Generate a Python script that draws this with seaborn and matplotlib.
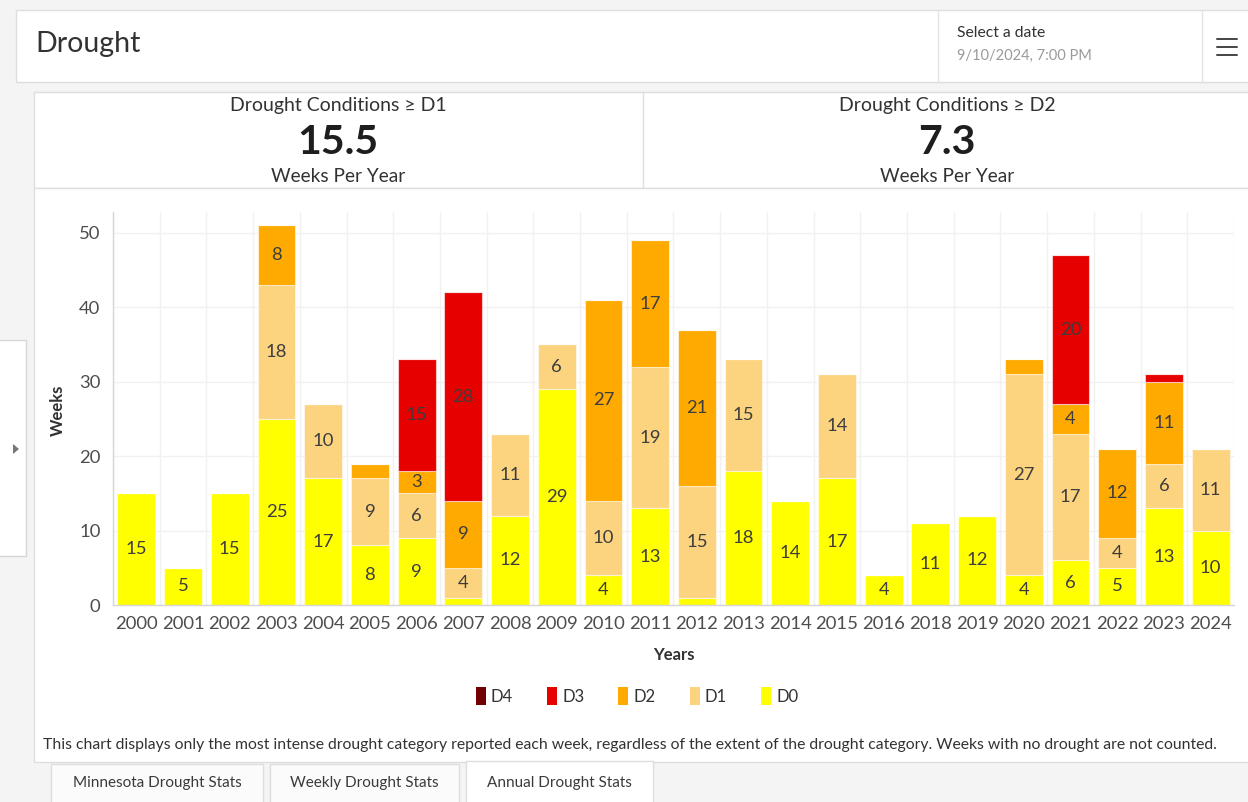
import numpy as np
import pandas as pd
import matplotlib
matplotlib.use("Agg")
import matplotlib.pyplot as plt
import seaborn as sns
from matplotlib.patches import Rectangle, Patch, Polygon
from matplotlib.lines import Line2D

# ---------------- data ----------------
years = ["2000", "2001", "2002", "2003", "2004", "2005", "2006", "2007", "2008",
         "2009", "2010", "2011", "2012", "2013", "2014", "2015", "2016", "2018",
         "2019", "2020", "2021", "2022", "2023", "2024"]
d0 = [15, 5, 15, 25, 17, 8, 9, 1, 12, 29, 4, 13, 1, 18, 14, 17, 4, 11, 12, 4, 6, 5, 13, 10]
d1 = [0, 0, 0, 18, 10, 9, 6, 4, 11, 6, 10, 19, 15, 15, 0, 14, 0, 0, 0, 27, 17, 4, 6, 11]
d2 = [0, 0, 0, 8, 0, 2, 3, 9, 0, 0, 27, 17, 21, 0, 0, 0, 0, 0, 0, 2, 4, 12, 11, 0]
d3 = [0, 0, 0, 0, 0, 0, 15, 28, 0, 0, 0, 0, 0, 0, 0, 0, 0, 0, 0, 0, 20, 0, 1, 0]
d4 = [0, 0, 0, 0, 0, 0, 0, 0, 0, 0, 0, 0, 0, 0, 0, 0, 0, 0, 0, 0, 0, 0, 0, 0]
categories = ["D4", "D3", "D2", "D1", "D0"]
cat_colors = {"D4": "#730000", "D3": "#E60000", "D2": "#FFAA00",
              "D1": "#FCD37F", "D0": "#FFFF00"}
kpi_titles = ["Drought Conditions \u2265 D1", "Drought Conditions \u2265 D2"]
kpi_values = ["15.5", "7.3"]
kpi_units = ["Weeks Per Year", "Weeks Per Year"]
tabs = ["Minnesota Drought Stats", "Weekly Drought Stats", "Annual Drought Stats"]
footnote = ("This chart displays only the most intense drought category reported each week, "
            "regardless of the extent of the drought category. Weeks with no drought are not counted.")

# ---------------- figure ----------------
W, H = 1248, 802
sns.set_theme(style="white")
plt.rcParams['font.family'] = ['Lato', 'DejaVu Sans']
TXT = "#323232"

fig = plt.figure(figsize=(W / 100, H / 100), dpi=100)
fig.patch.set_facecolor("#f4f4f4")


def fx(x):
    return x / W


def fy(y):
    return 1 - y / H


def rect(x0, y0, x1, y1, fc="white", ec="#dddddd", lw=1.0, z=0):
    fig.add_artist(Rectangle((fx(x0), fy(y1)), fx(x1) - fx(x0), fy(y0) - fy(y1),
                             transform=fig.transFigure, facecolor=fc,
                             edgecolor=ec, linewidth=lw, zorder=z))


def line(x0, y0, x1, y1, c="#dddddd", lw=1.0, z=1):
    fig.add_artist(Line2D([fx(x0), fx(x1)], [fy(y0), fy(y1)], transform=fig.transFigure,
                          color=c, linewidth=lw, zorder=z))


def text(x, y, s, **kw):
    kw.setdefault("color", TXT)
    kw.setdefault("va", "center")
    fig.text(fx(x), fy(y), s, **kw)


# header bar
rect(16, 10, 1252, 82, ec="#dedede")
line(938, 10, 938, 82, c="#e3e3e3")
line(1202, 10, 1202, 82, c="#e3e3e3")
text(35, 44, "Drought", fontsize=20.5, ha="left")
text(957, 33, "Select a date", fontsize=11.3, ha="left")
text(957, 56, "9/10/2024, 7:00 PM", fontsize=10.5, ha="left", color="#9a9a9a")
for yy in (39, 47, 55):
    line(1217, yy, 1237, yy, c="#444444", lw=1.4, z=2)

# left collapsed panel
rect(-2, 340, 26, 556, ec="#d6d6d6")
fig.add_artist(Polygon([[fx(13), fy(444)], [fx(13), fy(454)], [fx(19), fy(449)]],
                       closed=True, transform=fig.transFigure, facecolor="#777777",
                       edgecolor="none", zorder=2))

# KPI panel
rect(34, 92, 1252, 188, ec="#dedede")
line(643, 92, 643, 188, c="#dedede")
for cx, t, v, u in zip((338, 947), kpi_titles, kpi_values, kpi_units):
    text(cx, 105, t, fontsize=14, ha="center")
    text(cx, 142, v, fontsize=29.5, ha="center", fontweight="bold", color="#1e1e1e")
    text(cx, 176, u, fontsize=13.7, ha="center")

# chart panel
rect(34, 188, 1252, 762, ec="#dedede")

# tabs
tab_x = [(51, 263), (270, 459), (466, 653)]
for i, ((x0, x1), lab) in enumerate(zip(tab_x, tabs)):
    active = i == len(tabs) - 1
    rect(x0, 764 if not active else 761, x1, 806,
         fc="white" if active else "#fbfbfb", ec="#dedede", z=1 if active else 0)
    text((x0 + x1) / 2, 783, lab, fontsize=11, ha="center", color="#3a3a3a", zorder=3)

# ---------------- chart ----------------
ax = fig.add_axes([fx(113), fy(605), fx(1234) - fx(113), fy(212) - fy(605)])
ax.set_facecolor("white")
series = {"D0": d0, "D1": d1, "D2": d2, "D3": d3, "D4": d4}
bottom = np.zeros(len(years))
for cat in ["D0", "D1", "D2", "D3", "D4"]:
    vals = np.array(series[cat], dtype=float)
    df = pd.DataFrame({"Year": years, "Weeks": vals})
    sns.barplot(data=df, x="Year", y="Weeks", order=years, color=cat_colors[cat],
                saturation=1, width=0.81, bottom=bottom.copy(), errorbar=None,
                edgecolor=(1, 1, 1, 0.55), linewidth=0.8, ax=ax)
    cont = ax.containers[-1]
    labels = [f"{int(v)}" if v >= 3 else "" for v in vals]
    ax.bar_label(cont, labels=labels, label_type="center", fontsize=13.3,
                 color="#3d3d3d")
    bottom = bottom + vals

ax.set_xlim(-0.5, len(years) - 0.5)
ax.set_ylim(0, 52.8)
ax.set_yticks([0, 10, 20, 30, 40, 50])
ax.set_xticks(np.arange(-0.5, len(years), 1), minor=True)
ax.grid(axis="x", which="minor", color="#f1f1f1", linewidth=1)
ax.grid(axis="y", which="major", color="#f1f1f1", linewidth=1)
ax.grid(axis="x", which="major", visible=False)
ax.set_axisbelow(True)
for s in ("top", "right"):
    ax.spines[s].set_visible(False)
for s in ("left", "bottom"):
    ax.spines[s].set_color("#d6d6d6")
    ax.spines[s].set_linewidth(1)
ax.tick_params(axis="both", which="major", length=5, width=1, color="#d6d6d6",
               labelsize=13.3, labelcolor="#4d4d4d", pad=3)
ax.tick_params(axis="x", which="minor", length=0)
ax.tick_params(axis="y", pad=4)
ax.set_xlabel("")
ax.set_ylabel("")

text(674, 655, "Years", fontsize=12, fontweight="bold", ha="center")
text(58, 410, "Weeks", fontsize=12, fontweight="bold", ha="center", rotation=90)

# legend
handles = [Patch(facecolor=cat_colors[c], edgecolor="none", label=c) for c in categories]
fig.legend(handles=handles, loc="center", bbox_to_anchor=(fx(637), fy(696)), ncol=5,
           frameon=False, fontsize=12, handlelength=0.6, handleheight=1.2,
           handletextpad=0.3, columnspacing=2.05, labelcolor=TXT)

text(43, 745, footnote, fontsize=11.3, ha="left")

fig.savefig("out.png", dpi=100, facecolor=fig.get_facecolor())
